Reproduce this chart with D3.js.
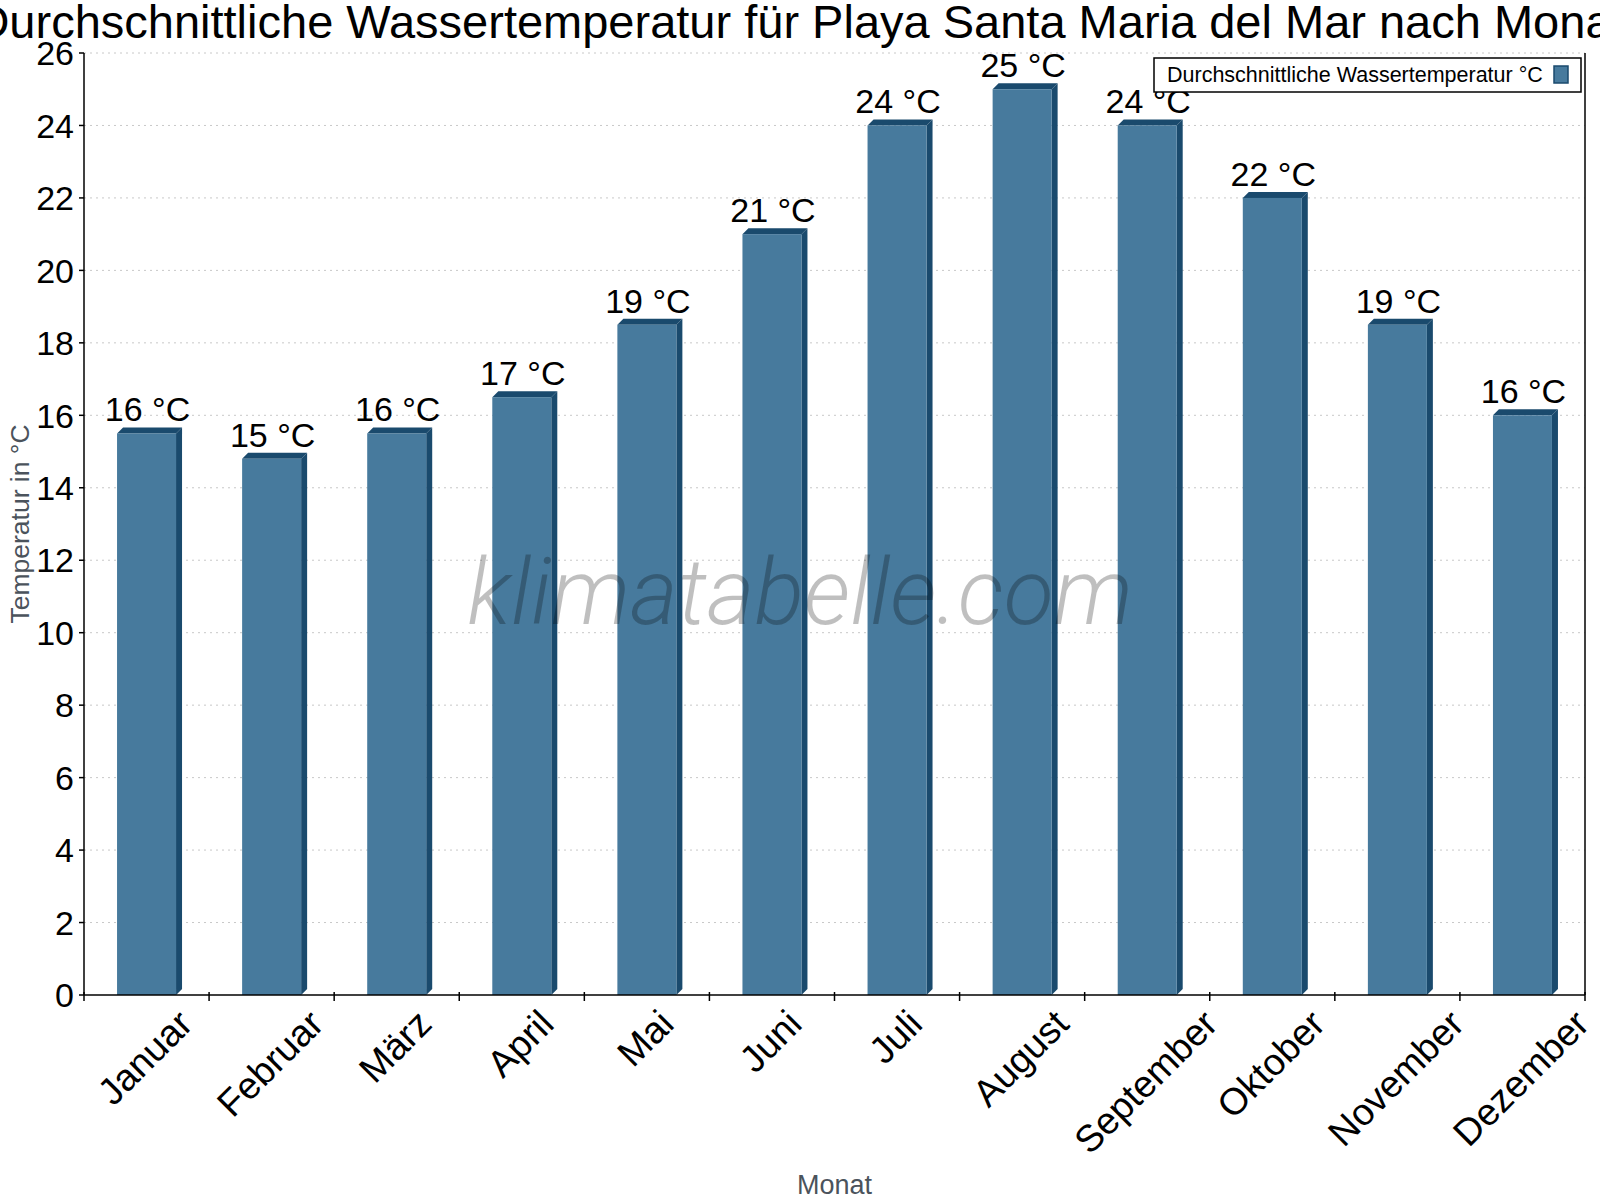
<!DOCTYPE html>
<html>
<head>
<meta charset="utf-8">
<script src="https://cdn.jsdelivr.net/npm/d3@7.9.0/dist/d3.min.js"></script>
<style>
  html, body { margin: 0; padding: 0; background: #fff; }
  svg { display: block; font-family: "Liberation Sans", Arial, sans-serif; }
</style>
</head>
<body>
<svg id="chart" width="1600" height="1200"></svg>
<script>
// Daten
const months = ["Januar", "Februar", "März", "April", "Mai", "Juni", "Juli",
  "August", "September", "Oktober", "November", "Dezember"];
const waterTemp = [15.5, 14.8, 15.5, 16.5, 18.5, 21, 24, 25, 24, 22, 18.5, 16];
const yTicks = [0, 2, 4, 6, 8, 10, 12, 14, 16, 18, 20, 22, 24, 26];

const titleText = "Durchschnittliche Wassertemperatur für Playa Santa Maria del Mar nach Monat";
const seriesName = "Durchschnittliche Wassertemperatur °C";

const frontColor = "#477a9d";
const darkColor = "#1a4a6d";

const svg = d3.select("#chart");
const plotLeft = 84, plotRight = 1585, plotTop = 53, plotBottom = 995;

const x = d3.scaleBand().domain(months).range([plotLeft, plotRight]).paddingInner(0).paddingOuter(0);
const y = d3.scaleLinear().domain([0, 26]).range([plotBottom, plotTop]);

// Titel
svg.append("text")
  .attr("x", 800).attr("y", 38)
  .attr("text-anchor", "middle")
  .attr("font-size", 47)
  .attr("fill", "#000")
  .text(titleText);

// Gitterlinien
svg.append("g").selectAll("line")
  .data(yTicks.filter(d => d > 0))
  .join("line")
  .attr("x1", plotLeft).attr("x2", plotRight)
  .attr("y1", d => y(d)).attr("y2", d => y(d))
  .attr("stroke", "#c8c8c8").attr("stroke-width", 1)
  .attr("stroke-dasharray", "2,4");

// Balken (3D-Optik)
const barW = 59, depth = 6;
const bars = svg.append("g").selectAll("g")
  .data(months.map((m, i) => ({ month: m, value: waterTemp[i] })))
  .join("g");

bars.each(function(d) {
  const g = d3.select(this);
  const cx = x(d.month) + x.bandwidth() / 2;
  const x0 = cx - barW / 2, x1 = cx + barW / 2;
  const yt = y(d.value), yb = y(0);
  // Seitenfläche
  g.append("path")
    .attr("d", `M${x1},${yt} L${x1 + depth},${yt - depth} L${x1 + depth},${yb - depth} L${x1},${yb} Z`)
    .attr("fill", darkColor);
  // Deckfläche
  g.append("path")
    .attr("d", `M${x0},${yt} L${x0 + depth},${yt - depth} L${x1 + depth},${yt - depth} L${x1},${yt} Z`)
    .attr("fill", darkColor);
  // Vorderseite
  g.append("rect")
    .attr("x", x0).attr("y", yt)
    .attr("width", barW).attr("height", yb - yt)
    .attr("fill", frontColor);
  // Beschriftung
  g.append("text")
    .attr("x", cx + 1).attr("y", yt - 12)
    .attr("text-anchor", "middle")
    .attr("font-size", 34)
    .attr("fill", "#000")
    .text(`${Math.round(d.value)} °C`);
});

// Wasserzeichen (über den Balken)
svg.append("text")
  .attr("x", 800).attr("y", 624)
  .attr("text-anchor", "middle")
  .attr("font-family", "Roboto, sans-serif")
  .attr("font-style", "italic")
  .attr("font-weight", 300)
  .attr("font-size", 92)
  .attr("fill", "rgba(0,0,0,0.25)")
  .text("klimatabelle.com");

// Achsenlinien
svg.append("line")
  .attr("x1", plotLeft).attr("x2", plotLeft).attr("y1", plotTop).attr("y2", plotBottom)
  .attr("stroke", "#000").attr("stroke-width", 1.5);
svg.append("line")
  .attr("x1", plotRight).attr("x2", plotRight).attr("y1", plotTop).attr("y2", plotBottom)
  .attr("stroke", "#000").attr("stroke-width", 1.5);
svg.append("line")
  .attr("x1", plotLeft).attr("x2", plotRight).attr("y1", plotBottom).attr("y2", plotBottom)
  .attr("stroke", "#000").attr("stroke-width", 1.5);

// Y-Achse Ticks
const yAxis = svg.append("g");
yAxis.selectAll("line")
  .data(yTicks)
  .join("line")
  .attr("x1", plotLeft - 5).attr("x2", plotLeft)
  .attr("y1", d => y(d)).attr("y2", d => y(d))
  .attr("stroke", "#000").attr("stroke-width", 1.5);
yAxis.selectAll("text")
  .data(yTicks)
  .join("text")
  .attr("x", plotLeft - 10).attr("y", d => y(d))
  .attr("dy", "0.36em")
  .attr("text-anchor", "end")
  .attr("font-size", 34)
  .attr("fill", "#000")
  .text(d => d);

// X-Achse Ticks an Kategoriegrenzen
const xTickPos = months.map(m => x(m)).concat([plotRight]);
svg.append("g").selectAll("line")
  .data(xTickPos)
  .join("line")
  .attr("x1", d => d).attr("x2", d => d)
  .attr("y1", plotBottom - 3).attr("y2", plotBottom + 6)
  .attr("stroke", "#000").attr("stroke-width", 1.5);

// X-Beschriftung, gedreht
const xLabelFs = 37.5;
const xLabels = svg.append("g").selectAll("text")
  .data(months)
  .join("text")
  .attr("text-anchor", "middle")
  .attr("dy", "0.36em")
  .attr("font-size", xLabelFs)
  .attr("fill", "#000")
  .text(d => d);
xLabels.each(function(d) {
  const w = this.getComputedTextLength();
  const half = 0.7071 * (w + 0.72 * xLabelFs) / 2;
  const cx = x(d) + x.bandwidth() / 2 - 2;
  d3.select(this).attr("transform", `translate(${cx},${1007 + half}) rotate(-45)`);
});

// Achsentitel
svg.append("text")
  .attr("x", (plotLeft + plotRight) / 2).attr("y", 1194)
  .attr("text-anchor", "middle")
  .attr("font-size", 27)
  .attr("fill", "#4b535c")
  .text("Monat");
svg.append("text")
  .attr("transform", `translate(29,${(plotTop + plotBottom) / 2}) rotate(-90)`)
  .attr("text-anchor", "middle")
  .attr("font-size", 26.5)
  .attr("fill", "#4b535c")
  .text("Temperatur in °C");

// Legende
const legend = svg.append("g");
legend.append("rect")
  .attr("x", 1154).attr("y", 58)
  .attr("width", 427).attr("height", 34)
  .attr("fill", "#fff").attr("stroke", "#000").attr("stroke-width", 1.5);
legend.append("text")
  .attr("x", 1167).attr("y", 82)
  .attr("font-size", 21.5)
  .attr("fill", "#000")
  .text(seriesName);
legend.append("rect")
  .attr("x", 1554).attr("y", 66)
  .attr("width", 14).attr("height", 17)
  .attr("fill", frontColor).attr("stroke", darkColor).attr("stroke-width", 1.5);
</script>
</body>
</html>
